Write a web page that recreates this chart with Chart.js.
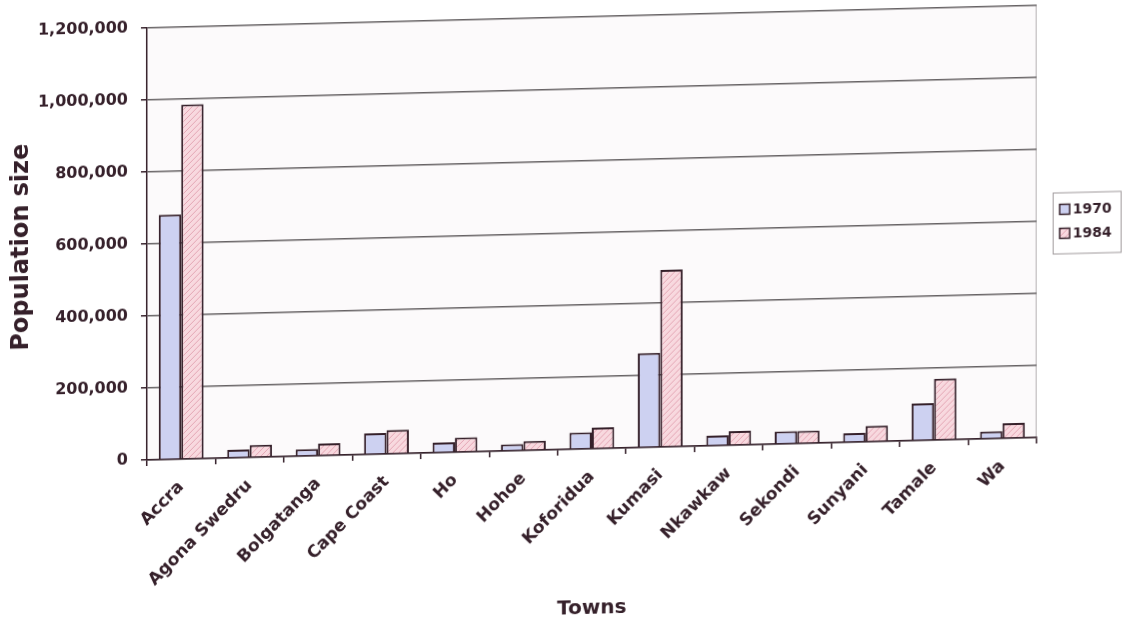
<!DOCTYPE html>
<html>
<head>
<meta charset="utf-8">
<title>Population of towns, 1970 and 1984</title>
<script src="https://cdn.jsdelivr.net/npm/chart.js"></script>
<style>
  html, body { margin: 0; padding: 0; background: #fff; overflow: hidden; }
  /* the printed sheet sits slightly askew */
  #popChart { display: block; transform: skewY(-1.45deg); transform-origin: 147px 0; }
</style>
</head>
<body>
<canvas id="popChart" width="1127" height="640"></canvas>
<script>
const towns = ['Accra', 'Agona Swedru', 'Bolgatanga', 'Cape Coast', 'Ho', 'Hohoe',
  'Koforidua', 'Kumasi', 'Nkawkaw', 'Sekondi', 'Sunyani', 'Tamale', 'Wa'];
const pop1970 = [680000, 22000, 19000, 58000, 28000, 18000, 46000, 262000, 28000, 35000, 25000, 103000, 20000];
const pop1984 = [985000, 34000, 33000, 66000, 40000, 26000, 58000, 492000, 39000, 35000, 44000, 170000, 42000];
const yTicks = [0, 200000, 400000, 600000, 800000, 1000000, 1200000];
const seriesNames = ['1970', '1984'];

const ink = '#35202a';
const face = '"DejaVu Sans", sans-serif';
const canvas = document.getElementById('popChart');

// pink fill with thin diagonal hatching for the 1984 bars
function hatchPattern() {
  const c = document.createElement('canvas');
  c.width = 6; c.height = 6;
  const g = c.getContext('2d');
  g.fillStyle = '#f8d9df';
  g.fillRect(0, 0, 6, 6);
  g.strokeStyle = '#e3a4b3';
  g.lineWidth = 1;
  g.beginPath();
  g.moveTo(0, 6); g.lineTo(6, 0);
  g.moveTo(-3, 3); g.lineTo(3, -3);
  g.moveTo(3, 9); g.lineTo(9, 3);
  g.stroke();
  return canvas.getContext('2d').createPattern(c, 'repeat');
}

// plot area background and its light right-hand border
const plotFrame = {
  id: 'plotFrame',
  beforeDraw(chart) {
    const { ctx, chartArea: a } = chart;
    ctx.save();
    ctx.fillStyle = '#fcfafb';
    ctx.fillRect(a.left, a.top, a.width, a.height);
    ctx.strokeStyle = '#b5b0b2';
    ctx.lineWidth = 1;
    ctx.beginPath();
    ctx.moveTo(a.right - 0.5, a.top);
    ctx.lineTo(a.right - 0.5, a.bottom);
    ctx.stroke();
    ctx.restore();
  }
};

// framed legend to the right of the plot, centred on it
const boxedLegend = {
  id: 'boxedLegend',
  afterDraw(chart) {
    const { ctx, chartArea: a } = chart;
    const w = 68, h = 61;
    const left = a.right + 16;
    const top = (a.top + a.bottom) / 2 - h / 2 + 2;
    ctx.save();
    ctx.strokeStyle = '#a09a9c';
    ctx.lineWidth = 1;
    ctx.strokeRect(left + 0.5, top + 0.5, w, h);
    ctx.font = 'bold 14px ' + face;
    ctx.textBaseline = 'middle';
    chart.data.datasets.forEach((ds, i) => {
      const cy = top + 17 + i * 24;
      ctx.fillStyle = ds.backgroundColor;
      ctx.fillRect(left + 7, cy - 5, 10, 10);
      ctx.strokeStyle = ink;
      ctx.lineWidth = 1.5;
      ctx.strokeRect(left + 7, cy - 5, 10, 10);
      ctx.fillStyle = ink;
      ctx.fillText(ds.label, left + 20, cy + 1);
    });
    ctx.restore();
  }
};

new Chart(canvas, {
  type: 'bar',
  data: {
    labels: towns,
    datasets: [
      { label: seriesNames[0], data: pop1970, backgroundColor: '#cdd1f1', borderColor: ink, borderWidth: 2 },
      { label: seriesNames[1], data: pop1984, backgroundColor: hatchPattern(), borderColor: ink, borderWidth: 2 }
    ]
  },
  options: {
    responsive: false,
    animation: false,
    layout: { padding: { top: 28, right: 90, left: 0, bottom: 0 } },
    datasets: { bar: { categoryPercentage: 0.655, barPercentage: 1 } },
    plugins: { legend: { display: false }, tooltip: { enabled: false } },
    scales: {
      x: {
        grid: { display: true, drawOnChartArea: false, offset: true, tickLength: 6, color: ink, lineWidth: 1.5 },
        border: { color: ink, width: 1.5 },
        ticks: {
          color: ink, autoSkip: false, minRotation: 45, maxRotation: 45, padding: 12,
          font: { family: face, size: 17, weight: 'bold' }
        },
        title: {
          display: true, text: 'Towns', color: ink,
          font: { family: face, size: 20, weight: 'bold' },
          padding: { top: 0, bottom: 8 }
        },
        afterFit(scale) { scale.height = 180; }
      },
      y: {
        min: 0,
        max: 1200000,
        afterBuildTicks(scale) { scale.ticks = yTicks.map(v => ({ value: v })); },
        grid: { color: '#666264', lineWidth: 1.5, tickLength: 6, tickColor: ink },
        border: { color: ink, width: 1.5 },
        ticks: {
          color: ink, padding: 13,
          font: { family: face, size: 16, weight: 'bold' },
          callback: v => v.toLocaleString('en-US')
        },
        title: {
          display: true, text: 'Population size', color: ink,
          font: { family: face, size: 24, weight: 'bold' },
          padding: { top: 7, bottom: 0 }
        },
        afterFit(scale) { scale.width = 147; }
      }
    }
  },
  plugins: [plotFrame, boxedLegend]
});
</script>
</body>
</html>
